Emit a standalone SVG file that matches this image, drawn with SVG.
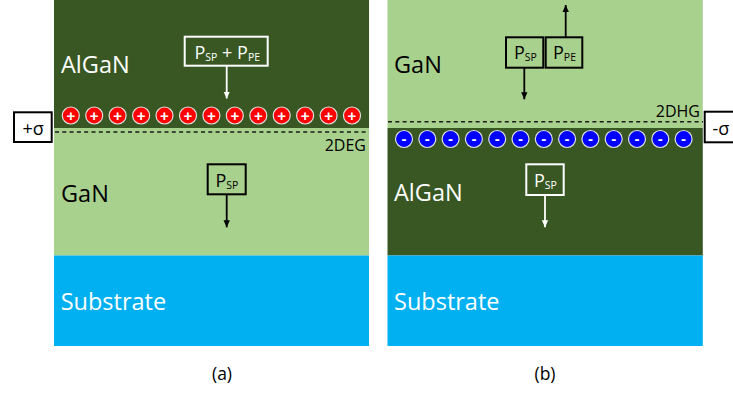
<svg xmlns="http://www.w3.org/2000/svg" width="733" height="394" viewBox="0 0 733 394">
<style>
.lbl{font-family:"Open Sans","Liberation Sans",sans-serif;font-size:23.5px}
.w{fill:#ffffff}
.k{fill:#000000}
.box{font-family:"Open Sans","Liberation Sans",sans-serif;font-size:18px}
.sub{font-size:10.5px}
.sm{font-family:"Open Sans","Liberation Sans",sans-serif;font-size:16px}
.cap{font-family:"Open Sans","Liberation Sans",sans-serif;font-size:17.5px}
.pos{fill:#ff0000;stroke:#e0e0e0;stroke-width:1.2}
.neg{fill:#0000ff;stroke:#e0e0e0;stroke-width:1.2}
.chg{font-family:"Liberation Sans",sans-serif;font-size:15px;font-weight:bold;fill:#fff;text-anchor:middle}
.dash{stroke:#1a1a1a;stroke-width:1.5;stroke-dasharray:4 3.3;fill:none}
.bw{fill:none;stroke:#ffffff;stroke-width:2}
.bk{fill:none;stroke:#000000;stroke-width:2}
.sig{fill:#ffffff;stroke:#000000;stroke-width:2}
</style>
<defs>
<marker id="ak" markerUnits="userSpaceOnUse" markerWidth="8" markerHeight="8" refX="7" refY="4" orient="auto">
<path d="M0,0.8 L7,4 L0,7.2 z" fill="#000"/>
</marker>
<marker id="aw" markerUnits="userSpaceOnUse" markerWidth="8" markerHeight="8" refX="7" refY="4" orient="auto">
<path d="M0,0.8 L7,4 L0,7.2 z" fill="#fff"/>
</marker>
</defs>
<rect width="733" height="394" fill="#ffffff"/>

<!-- Panel (a) -->
<g id="a-algan">
<rect x="54" y="0" width="315" height="128" fill="#385723"/>
<text class="lbl w" x="61" y="72.7">AlGaN</text>
</g>
<g id="a-gan">
<rect x="54" y="128" width="315" height="127.5" fill="#a9d18e"/>
<text class="lbl k" x="61" y="201.7">GaN</text>
</g>
<g id="a-substrate">
<rect x="54" y="255.5" width="315" height="90.5" fill="#00b0f0"/>
<text class="lbl w" x="60.7" y="310">Substrate</text>
</g>
<g id="a-charges">
<circle class="pos" cx="70.8" cy="115.5" r="8.5"/><circle class="pos" cx="94.2" cy="115.5" r="8.5"/><circle class="pos" cx="117.6" cy="115.5" r="8.5"/><circle class="pos" cx="141.1" cy="115.5" r="8.5"/><circle class="pos" cx="164.5" cy="115.5" r="8.5"/><circle class="pos" cx="188" cy="115.5" r="8.5"/><circle class="pos" cx="211.4" cy="115.5" r="8.5"/><circle class="pos" cx="234.8" cy="115.5" r="8.5"/><circle class="pos" cx="258.3" cy="115.5" r="8.5"/><circle class="pos" cx="281.7" cy="115.5" r="8.5"/><circle class="pos" cx="305.1" cy="115.5" r="8.5"/><circle class="pos" cx="328.6" cy="115.5" r="8.5"/><circle class="pos" cx="352" cy="115.5" r="8.5"/>
<text class="chg" y="120.8"><tspan x="70.8">+</tspan><tspan x="94.2">+</tspan><tspan x="117.6">+</tspan><tspan x="141.1">+</tspan><tspan x="164.5">+</tspan><tspan x="188">+</tspan><tspan x="211.4">+</tspan><tspan x="234.8">+</tspan><tspan x="258.3">+</tspan><tspan x="281.7">+</tspan><tspan x="305.1">+</tspan><tspan x="328.6">+</tspan><tspan x="352">+</tspan></text>
</g>
<g id="a-2deg">
<line class="dash" x1="55" y1="132" x2="369" y2="132"/>
<text class="sm k" x="366" y="150.5" text-anchor="end">2DEG</text>
</g>
<g id="a-sigma">
<rect class="sig" x="14" y="112.3" width="37.7" height="29.7"/>
<text class="box k" x="22.5" y="135">+σ</text>
</g>
<g id="a-pol-algan">
<rect class="bw" x="184.7" y="36.7" width="83" height="29"/>
<text class="box w" x="194.5" y="59.3">P<tspan class="sub" dy="2">SP</tspan><tspan dy="-2"> + P</tspan><tspan class="sub" dy="2">PE</tspan></text>
</g>
<g id="a-pol-gan">
<rect class="bk" x="207.7" y="164.3" width="38" height="30"/>
<text class="box k" x="215.5" y="187.3">P<tspan class="sub" dy="2">SP</tspan></text>
</g>

<!-- Panel (b) -->
<g id="b-gan">
<rect x="387.5" y="0" width="315.3" height="128" fill="#a9d18e"/>
<text class="lbl k" x="394" y="72.7">GaN</text>
</g>
<g id="b-algan">
<rect x="387.5" y="128" width="315.3" height="127.5" fill="#385723"/>
<text class="lbl w" x="394" y="201">AlGaN</text>
</g>
<g id="b-substrate">
<rect x="387.5" y="255.5" width="315.3" height="90.5" fill="#00b0f0"/>
<text class="lbl w" x="394" y="310">Substrate</text>
</g>
<g id="b-charges">
<circle class="neg" cx="404" cy="139" r="8.5"/><circle class="neg" cx="427.3" cy="139" r="8.5"/><circle class="neg" cx="450.6" cy="139" r="8.5"/><circle class="neg" cx="473.9" cy="139" r="8.5"/><circle class="neg" cx="497.2" cy="139" r="8.5"/><circle class="neg" cx="520.5" cy="139" r="8.5"/><circle class="neg" cx="543.8" cy="139" r="8.5"/><circle class="neg" cx="567.1" cy="139" r="8.5"/><circle class="neg" cx="590.4" cy="139" r="8.5"/><circle class="neg" cx="613.7" cy="139" r="8.5"/><circle class="neg" cx="637" cy="139" r="8.5"/><circle class="neg" cx="660.3" cy="139" r="8.5"/><circle class="neg" cx="683.6" cy="139" r="8.5"/>
<text class="chg" y="143.5"><tspan x="404">-</tspan><tspan x="427.3">-</tspan><tspan x="450.6">-</tspan><tspan x="473.9">-</tspan><tspan x="497.2">-</tspan><tspan x="520.5">-</tspan><tspan x="543.8">-</tspan><tspan x="567.1">-</tspan><tspan x="590.4">-</tspan><tspan x="613.7">-</tspan><tspan x="637">-</tspan><tspan x="660.3">-</tspan><tspan x="683.6">-</tspan></text>
</g>
<g id="b-2dhg">
<line class="dash" x1="388" y1="121.7" x2="703" y2="121.7"/>
<text class="sm k" x="700" y="117.3" text-anchor="end">2DHG</text>
</g>
<g id="b-sigma">
<rect class="sig" x="704.7" y="111.7" width="40" height="30.6"/>
<text class="box k" x="712.5" y="135">-σ</text>
</g>
<g id="b-pol-sp">
<rect class="bk" x="506" y="37.3" width="37.3" height="30.4"/>
<text class="box k" x="514" y="59.3">P<tspan class="sub" dy="2">SP</tspan></text>
</g>
<g id="b-pol-pe">
<rect class="bk" x="545.7" y="37.3" width="36.6" height="30.4"/>
<text class="box k" x="553" y="59.3">P<tspan class="sub" dy="2">PE</tspan></text>
</g>
<g id="b-pol-algan">
<rect class="bw" x="526.3" y="164.3" width="37.4" height="30.7"/>
<text class="box w" x="534" y="186.5">P<tspan class="sub" dy="2">SP</tspan></text>
</g>

<!-- Captions -->
<text class="cap k" x="222" y="379.5" text-anchor="middle">(a)</text>
<text class="cap k" x="545" y="379.5" text-anchor="middle">(b)</text>

<!-- Connectors -->
<g id="connectors">
<line x1="226.7" y1="65.7" x2="226.7" y2="98.5" stroke="#fff" stroke-width="1.8" marker-end="url(#aw)"/>
<line x1="226.7" y1="194.3" x2="226.7" y2="227.3" stroke="#000" stroke-width="1.8" marker-end="url(#ak)"/>
<line x1="565.7" y1="37.3" x2="565.7" y2="5" stroke="#000" stroke-width="1.8" marker-end="url(#ak)"/>
<line x1="524.3" y1="67.7" x2="524.3" y2="99.3" stroke="#000" stroke-width="1.8" marker-end="url(#ak)"/>
<line x1="545" y1="195" x2="545" y2="227.3" stroke="#fff" stroke-width="1.8" marker-end="url(#aw)"/>
</g>
</svg>
